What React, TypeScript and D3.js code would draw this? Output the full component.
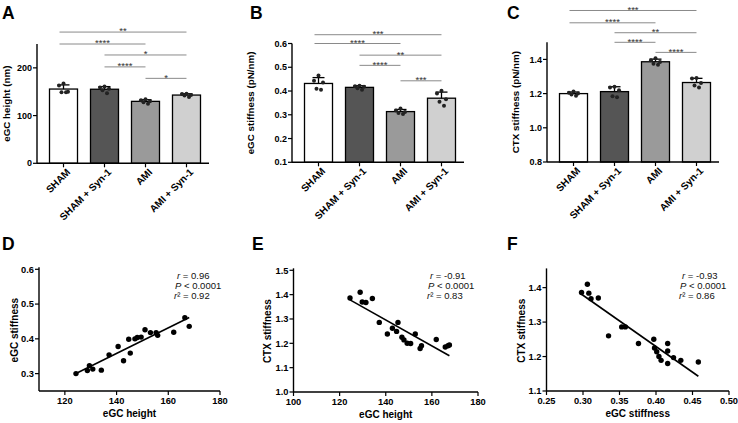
import React from 'react';
import * as d3 from 'd3';

const FONT = '"Liberation Sans", Arial, Helvetica, sans-serif';

// ---------- Bar chart data ----------
const groups = ['SHAM', 'SHAM + Syn-1', 'AMI', 'AMI + Syn-1'];
const groupFills = ['#ffffff', '#555555', '#9a9a9a', '#d0d0d0'];

const heightPoints = [
  [167, 163, 150, 149, 149],
  [161, 159, 156, 153, 147],
  [134, 132, 130, 128, 125],
  [146, 145, 143, 142, 139],
];
const stiffPoints = [
  [0.465, 0.443, 0.436, 0.41, 0.405],
  [0.422, 0.42, 0.418, 0.412, 0.405],
  [0.326, 0.318, 0.312, 0.308, 0.303],
  [0.401, 0.39, 0.365, 0.355, 0.338],
];
const ctxPoints = [
  [1.212, 1.205, 1.2, 1.195, 1.188],
  [1.24, 1.235, 1.22, 1.185, 1.178],
  [1.407, 1.395, 1.385, 1.375, 1.369],
  [1.291, 1.288, 1.262, 1.248, 1.235],
];

const heightTicks = [0, 100, 200];
const stiffTicks = [0.1, 0.2, 0.3, 0.4, 0.5, 0.6];
const ctxTicks = [0.8, 1.0, 1.2, 1.4];

// significance brackets: from group, to group, level (data units), label
const heightSigFrom = [0, 0, 1, 1, 2];
const heightSigTo = [3, 2, 3, 2, 3];
const heightSigLevel = [275, 250, 227, 202, 178];
const heightSigLabel = ['**', '****', '*', '****', '*'];

const stiffSigFrom = [0, 0, 1, 1, 2];
const stiffSigTo = [3, 2, 3, 2, 3];
const stiffSigLevel = [0.637, 0.6, 0.551, 0.508, 0.443];
const stiffSigLabel = ['***', '****', '**', '****', '***'];

const ctxSigFrom = [0, 0, 1, 1, 2];
const ctxSigTo = [3, 2, 3, 2, 3];
const ctxSigLevel = [1.686, 1.614, 1.556, 1.5, 1.441];
const ctxSigLabel = ['***', '****', '**', '****', '****'];

// ---------- Scatter data ----------
const dHeight = [124.3, 128.7, 129.5, 130.8, 134.1, 137.1, 140.6, 142.7, 144.7, 145.3, 147.1, 148.0, 149.5, 151.0, 153.1, 155.3, 155.9, 162.1, 166.4, 168.1];
const dStiff = [0.300, 0.309, 0.323, 0.313, 0.310, 0.354, 0.378, 0.337, 0.399, 0.359, 0.400, 0.404, 0.405, 0.426, 0.418, 0.418, 0.410, 0.419, 0.461, 0.436];

const eHeight = [124.5, 128.9, 129.8, 131.4, 134.2, 137.2, 140.7, 142.9, 144.7, 145.3, 147.0, 147.9, 149.3, 150.8, 152.8, 154.9, 155.5, 161.9, 165.8, 167.0, 167.6];
const eCtx = [1.386, 1.410, 1.370, 1.368, 1.384, 1.286, 1.238, 1.262, 1.249, 1.286, 1.225, 1.214, 1.200, 1.199, 1.238, 1.179, 1.190, 1.216, 1.185, 1.190, 1.193];

const fStiff = [0.298, 0.306, 0.308, 0.311, 0.321, 0.335, 0.353, 0.358, 0.376, 0.397, 0.398, 0.401, 0.404, 0.407, 0.416, 0.416, 0.416, 0.424, 0.434, 0.458];
const fCtx = [1.386, 1.410, 1.384, 1.368, 1.370, 1.260, 1.286, 1.286, 1.238, 1.250, 1.225, 1.214, 1.200, 1.189, 1.238, 1.216, 1.180, 1.197, 1.189, 1.184];

const dStats = ['0.96', '< 0.0001', '0.92'];
const eStats = ['-0.91', '< 0.0001', '0.83'];
const fStats = ['-0.93', '< 0.0001', '0.86'];

const dXTicks = [120, 140, 160, 180];
const dYTicks = [0.3, 0.4, 0.5, 0.6];
const eXTicks = [100, 120, 140, 160, 180];
const eYTicks = [1.0, 1.1, 1.2, 1.3, 1.4, 1.5];
const fXTicks = [0.25, 0.3, 0.35, 0.4, 0.45, 0.5];
const fYTicks = [1.1, 1.2, 1.3, 1.4];

const dotSpread = [0, -4.5, 4.5, -2, 2.5];

type BarProps = {
  letter: string; letterX: number; x0: number; yTop: number; yBot: number;
  domain: [number, number]; ticks: number[]; fmt: (v: number) => string;
  label: string; labelX: number; points: number[][];
  sigFrom: number[]; sigTo: number[]; sigLevel: number[]; sigLabel: string[];
};

function BarPanel(p: BarProps) {
  const W = 172;
  const y = d3.scaleLinear().domain(p.domain).range([p.yBot, p.yTop]);
  const x = d3.scaleBand<string>().domain(groups).range([p.x0, p.x0 + 176]).paddingInner(13 / 41).paddingOuter(0.305);
  const bw = x.bandwidth();
  const cx = (i: number) => (x(groups[i]) as number) + bw / 2;
  return (
    <g>
      <text x={p.letterX} y={18.5} fontFamily={FONT} fontWeight="bold" fontSize={17.5}>{p.letter}</text>
      {p.sigLevel.map((lv, k) => {
        const x1 = cx(p.sigFrom[k]) - (p.sigFrom[k] === 0 ? 4 : 0);
        const x2 = cx(p.sigTo[k]);
        return (
          <g key={'s' + k}>
            <line x1={x1} x2={x2} y1={y(lv)} y2={y(lv)} stroke="#8a8a8a" strokeWidth={1} />
            <text x={(x1 + x2) / 2} y={y(lv) + 2.4} textAnchor="middle" fontFamily={FONT} fontSize={9.5} fill="#333">{p.sigLabel[k]}</text>
          </g>
        );
      })}
      {groups.map((g, i) => {
        const vals = p.points[i];
        const m = d3.mean(vals) as number;
        const sd = d3.deviation(vals) as number;
        const c = cx(i);
        return (
          <g key={g}>
            <rect x={x(g)} y={y(m)} width={bw} height={p.yBot - y(m)} fill={groupFills[i]} stroke="#000" strokeWidth={1.3} />
            <line x1={c} x2={c} y1={y(m)} y2={y(m + sd)} stroke="#000" strokeWidth={1.3} />
            <line x1={c - 6} x2={c + 6} y1={y(m + sd)} y2={y(m + sd)} stroke="#000" strokeWidth={1.3} />
            {vals.map((v, j) => (
              <circle key={j} cx={c + dotSpread[j % dotSpread.length]} cy={y(v)} r={2} fill="#222" />
            ))}
          </g>
        );
      })}
      <line x1={p.x0} x2={p.x0} y1={p.yTop} y2={p.yBot} stroke="#000" strokeWidth={1.4} />
      <line x1={p.x0} x2={p.x0 + W} y1={p.yBot} y2={p.yBot} stroke="#000" strokeWidth={1.4} />
      {p.ticks.map((t) => (
        <g key={'t' + t}>
          <line x1={p.x0 - 4} x2={p.x0} y1={y(t)} y2={y(t)} stroke="#000" strokeWidth={1.2} />
          <text x={p.x0 - 5} y={y(t)} dy="0.35em" textAnchor="end" fontFamily={FONT} fontWeight="bold" fontSize={9}>{p.fmt(t)}</text>
        </g>
      ))}
      {groups.map((g, i) => (
        <g key={'x' + g}>
          <line x1={cx(i)} x2={cx(i)} y1={p.yBot} y2={p.yBot + 4} stroke="#000" strokeWidth={1.2} />
          <text transform={`translate(${cx(i) + 5},${p.yBot + 7}) rotate(-45)`} textAnchor="end" dy="0.35em" fontFamily={FONT} fontWeight="bold" fontSize={10}>{g}</text>
        </g>
      ))}
      <text transform={`translate(${p.labelX},${(p.yTop + p.yBot) / 2}) rotate(-90)`} textAnchor="middle" fontFamily={FONT} fontWeight="bold" fontSize={9.8}>{p.label}</text>
    </g>
  );
}

type ScatterProps = {
  letter: string; letterX: number;
  xd: [number, number]; xr: [number, number]; yd: [number, number]; yr: [number, number];
  xTicks: number[]; yTicks: number[]; xFmt: (v: number) => string; yFmt: (v: number) => string;
  xs: number[]; ys: number[]; xLabel: string; yLabel: string; yLabelX: number;
  stats: string[]; statsX: number;
};

function ScatterPanel(p: ScatterProps) {
  const x = d3.scaleLinear().domain(p.xd).range(p.xr);
  const y = d3.scaleLinear().domain(p.yd).range(p.yr);
  const mx = d3.mean(p.xs) as number;
  const my = d3.mean(p.ys) as number;
  let sxy = 0, sxx = 0;
  p.xs.forEach((v, i) => { sxy += (v - mx) * (p.ys[i] - my); sxx += (v - mx) * (v - mx); });
  const b = sxy / sxx;
  const a = my - b * mx;
  const [xmin, xmax] = d3.extent(p.xs) as [number, number];
  const fit = d3.line<number>().x((v) => x(v)).y((v) => y(a + b * v));
  const x0 = p.xr[0];
  const yb = p.yr[0];
  return (
    <g>
      <text x={p.letterX} y={250} fontFamily={FONT} fontWeight="bold" fontSize={17.5}>{p.letter}</text>
      <line x1={x0} x2={x0} y1={p.yr[1] - 2} y2={yb} stroke="#000" strokeWidth={1.4} />
      <line x1={x0} x2={p.xr[1]} y1={yb} y2={yb} stroke="#000" strokeWidth={1.4} />
      {p.yTicks.map((t) => (
        <g key={'y' + t}>
          <line x1={x0 - 4} x2={x0} y1={y(t)} y2={y(t)} stroke="#000" strokeWidth={1.2} />
          <text x={x0 - 5} y={y(t)} dy="0.35em" textAnchor="end" fontFamily={FONT} fontWeight="bold" fontSize={9.3}>{p.yFmt(t)}</text>
        </g>
      ))}
      {p.xTicks.map((t) => (
        <g key={'x' + t}>
          <line x1={x(t)} x2={x(t)} y1={yb} y2={yb + 4} stroke="#000" strokeWidth={1.2} />
          <text x={x(t)} y={yb + 12.5} textAnchor="middle" fontFamily={FONT} fontWeight="bold" fontSize={9.3}>{p.xFmt(t)}</text>
        </g>
      ))}
      {p.xs.map((v, i) => (
        <circle key={i} cx={x(v)} cy={y(p.ys[i])} r={2.7} fill="#000" />
      ))}
      <path d={fit([xmin, xmax]) as string} stroke="#000" strokeWidth={1.6} fill="none" />
      <text x={(p.xr[0] + p.xr[1]) / 2} y={yb + 26} textAnchor="middle" fontFamily={FONT} fontWeight="bold" fontSize={10}>{p.xLabel}</text>
      <text transform={`translate(${p.yLabelX},${(p.yr[0] + p.yr[1]) / 2}) rotate(-90)`} textAnchor="middle" fontFamily={FONT} fontWeight="bold" fontSize={10}>{p.yLabel}</text>
      <text fontFamily={FONT} fontSize={9.5} fill="#111">
        <tspan x={p.statsX + 2} y={278.5}><tspan fontStyle="italic">r</tspan> = {p.stats[0]}</tspan>
        <tspan x={p.statsX} y={288.5}><tspan fontStyle="italic">P</tspan> {p.stats[1]}</tspan>
        <tspan x={p.statsX - 1} y={298.5}><tspan fontStyle="italic">r</tspan>² = {p.stats[2]}</tspan>
      </text>
    </g>
  );
}

const f0 = (v: number) => d3.format('d')(v);
const f1 = (v: number) => d3.format('.1f')(v);
const f2 = (v: number) => d3.format('.2f')(v);

export default function App() {
  return (
    <svg width={738} height={423} style={{ position: 'absolute', left: 0, top: 0, background: '#fff' }}>
      <BarPanel letter="A" letterX={2} x0={37} yTop={44} yBot={163.3} domain={[0, 250]} ticks={heightTicks} fmt={f0}
        label="eGC height (nm)" labelX={9.5} points={heightPoints}
        sigFrom={heightSigFrom} sigTo={heightSigTo} sigLevel={heightSigLevel} sigLabel={heightSigLabel} />
      <BarPanel letter="B" letterX={250} x0={292} yTop={43.5} yBot={162.3} domain={[0.1, 0.6]} ticks={stiffTicks} fmt={f1}
        label="eGC stiffness (pN/nm)" labelX={254} points={stiffPoints}
        sigFrom={stiffSigFrom} sigTo={stiffSigTo} sigLevel={stiffSigLevel} sigLabel={stiffSigLabel} />
      <BarPanel letter="C" letterX={507} x0={547} yTop={42.3} yBot={162} domain={[0.8, 1.5]} ticks={ctxTicks} fmt={f1}
        label="CTX stiffness (pN/nm)" labelX={519} points={ctxPoints}
        sigFrom={ctxSigFrom} sigTo={ctxSigTo} sigLevel={ctxSigLevel} sigLabel={ctxSigLabel} />

      <ScatterPanel letter="D" letterX={2} xd={[110, 180]} xr={[39, 220]} yd={[0.25, 0.6]} yr={[391, 269.3]}
        xTicks={dXTicks} yTicks={dYTicks} xFmt={f0} yFmt={f1} xs={dHeight} ys={dStiff}
        xLabel="eGC height" yLabel="eGC stiffness" yLabelX={18} stats={dStats} statsX={175} />
      <ScatterPanel letter="E" letterX={252} xd={[100, 180]} xr={[293.5, 478]} yd={[1.0, 1.5]} yr={[392, 270.3]}
        xTicks={eXTicks} yTicks={eYTicks} xFmt={f0} yFmt={f1} xs={eHeight} ys={eCtx}
        xLabel="eGC height" yLabel="CTX stiffness" yLabelX={271} stats={eStats} statsX={428} />
      <ScatterPanel letter="F" letterX={507} xd={[0.25, 0.5]} xr={[546.5, 729]} yd={[1.1, 1.45]} yr={[391, 270.4]}
        xTicks={fXTicks} yTicks={fYTicks} xFmt={f2} yFmt={f1} xs={fStiff} ys={fCtx}
        xLabel="eGC stiffness" yLabel="CTX stiffness" yLabelX={524.5} stats={fStats} statsX={680} />
    </svg>
  );
}
